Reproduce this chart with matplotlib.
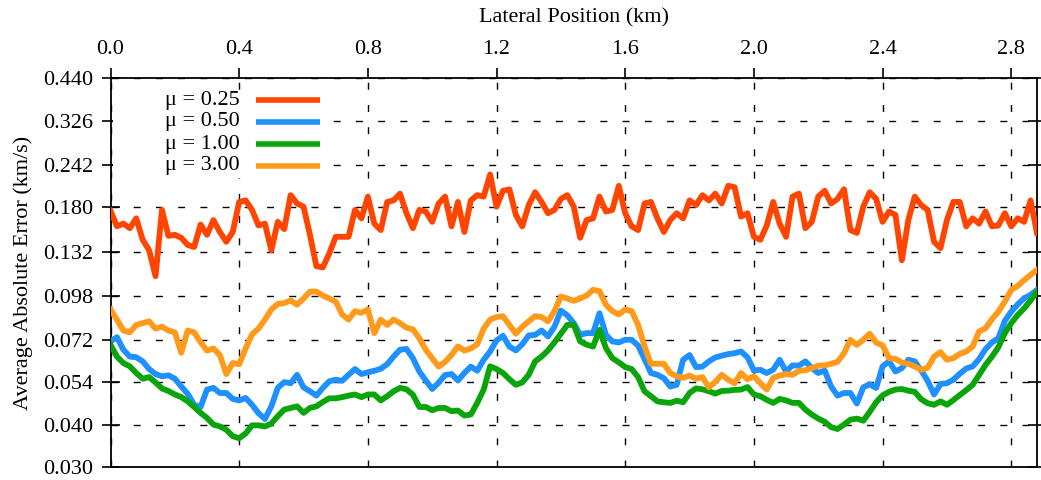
from __future__ import annotations

import matplotlib

matplotlib.use("Agg")

import matplotlib.pyplot as plt
import numpy as np
from matplotlib.patches import Rectangle
from matplotlib.ticker import FixedFormatter, FixedLocator, NullLocator


# sampling positions along the profile (km), every 20 m
positions_km = np.round(np.arange(145) * 0.02, 2)

mu_labels = ["\u03bc = 0.25", "\u03bc = 0.50", "\u03bc = 1.00", "\u03bc = 3.00"]
mu_colors = ["#ff4500", "#1e90ff", "#0aa50a", "#ff9a1a"]

err_mu025 = [
    0.176, 0.158, 0.161, 0.156, 0.167, 0.144, 0.134, 0.112, 0.177, 0.148, 0.149, 0.146,
    0.139, 0.137, 0.160, 0.149, 0.165, 0.152, 0.142, 0.152, 0.187, 0.189, 0.177, 0.159,
    0.161, 0.134, 0.163, 0.155, 0.196, 0.185, 0.181, 0.149, 0.120, 0.119, 0.131, 0.147,
    0.147, 0.147, 0.177, 0.167, 0.194, 0.161, 0.154, 0.187, 0.189, 0.198, 0.173, 0.156,
    0.177, 0.175, 0.163, 0.185, 0.194, 0.158, 0.187, 0.152, 0.189, 0.196, 0.194, 0.226,
    0.181, 0.202, 0.204, 0.171, 0.158, 0.183, 0.200, 0.187, 0.173, 0.177, 0.191, 0.196,
    0.181, 0.146, 0.165, 0.167, 0.194, 0.175, 0.177, 0.209, 0.173, 0.158, 0.154, 0.185,
    0.187, 0.167, 0.152, 0.165, 0.173, 0.167, 0.189, 0.183, 0.196, 0.189, 0.198, 0.185,
    0.209, 0.207, 0.169, 0.173, 0.147, 0.144, 0.159, 0.187, 0.161, 0.147, 0.194, 0.198,
    0.156, 0.163, 0.194, 0.202, 0.185, 0.191, 0.204, 0.154, 0.151, 0.181, 0.200, 0.191,
    0.163, 0.175, 0.171, 0.125, 0.165, 0.194, 0.183, 0.177, 0.142, 0.136, 0.165, 0.187,
    0.187, 0.158, 0.167, 0.161, 0.175, 0.158, 0.159, 0.173, 0.158, 0.167, 0.163, 0.189,
    0.151,
]

err_mu050 = [
    0.0714, 0.0735, 0.0674, 0.0643, 0.0640, 0.0622, 0.0590, 0.0570, 0.0561, 0.0565, 0.0552, 0.0523,
    0.0497, 0.0461, 0.0454, 0.0512, 0.0518, 0.0500, 0.0500, 0.0480, 0.0475, 0.0483, 0.0461, 0.0435,
    0.0418, 0.0456, 0.0518, 0.0539, 0.0535, 0.0567, 0.0520, 0.0506, 0.0491, 0.0518, 0.0542, 0.0548,
    0.0544, 0.0567, 0.0590, 0.0570, 0.0577, 0.0583, 0.0591, 0.0610, 0.0643, 0.0674, 0.0678, 0.0636,
    0.0580, 0.0545, 0.0514, 0.0537, 0.0566, 0.0570, 0.0545, 0.0574, 0.0600, 0.0583, 0.0629, 0.0666,
    0.0719, 0.0742, 0.0689, 0.0671, 0.0700, 0.0744, 0.0747, 0.0770, 0.0739, 0.0790, 0.0883, 0.0855,
    0.0810, 0.0747, 0.0756, 0.0756, 0.0867, 0.0747, 0.0714, 0.0709, 0.0722, 0.0722, 0.0694, 0.0632,
    0.0574, 0.0567, 0.0554, 0.0523, 0.0529, 0.0629, 0.0650, 0.0598, 0.0600, 0.0622, 0.0639, 0.0647,
    0.0654, 0.0658, 0.0666, 0.0640, 0.0584, 0.0587, 0.0574, 0.0587, 0.0629, 0.0580, 0.0605, 0.0604,
    0.0622, 0.0594, 0.0574, 0.0584, 0.0523, 0.0491, 0.0500, 0.0500, 0.0465, 0.0520, 0.0531, 0.0518,
    0.0601, 0.0622, 0.0580, 0.0594, 0.0629, 0.0622, 0.0584, 0.0544, 0.0495, 0.0532, 0.0535, 0.0548,
    0.0571, 0.0592, 0.0601, 0.0632, 0.0677, 0.0709, 0.0730, 0.0823, 0.0877, 0.0922, 0.0962, 0.0984,
    0.1019,
]

err_mu100 = [
    0.0697, 0.0643, 0.0615, 0.0601, 0.0574, 0.0552, 0.0558, 0.0538, 0.0516, 0.0507, 0.0495, 0.0486,
    0.0472, 0.0454, 0.0436, 0.0421, 0.0402, 0.0397, 0.0388, 0.0371, 0.0366, 0.0378, 0.0400, 0.0400,
    0.0397, 0.0405, 0.0426, 0.0446, 0.0451, 0.0456, 0.0436, 0.0451, 0.0456, 0.0470, 0.0482, 0.0482,
    0.0486, 0.0491, 0.0495, 0.0486, 0.0495, 0.0495, 0.0475, 0.0489, 0.0506, 0.0518, 0.0513, 0.0494,
    0.0454, 0.0454, 0.0444, 0.0451, 0.0451, 0.0441, 0.0443, 0.0428, 0.0431, 0.0467, 0.0512, 0.0601,
    0.0590, 0.0574, 0.0550, 0.0529, 0.0538, 0.0567, 0.0622, 0.0643, 0.0671, 0.0709, 0.0753, 0.0800,
    0.0800, 0.0714, 0.0698, 0.0689, 0.0773, 0.0682, 0.0636, 0.0618, 0.0598, 0.0590, 0.0558, 0.0506,
    0.0489, 0.0472, 0.0469, 0.0467, 0.0474, 0.0469, 0.0500, 0.0516, 0.0513, 0.0506, 0.0498, 0.0507,
    0.0508, 0.0511, 0.0512, 0.0521, 0.0495, 0.0489, 0.0477, 0.0467, 0.0480, 0.0475, 0.0467, 0.0467,
    0.0446, 0.0431, 0.0419, 0.0410, 0.0395, 0.0390, 0.0402, 0.0416, 0.0419, 0.0413, 0.0439, 0.0469,
    0.0492, 0.0504, 0.0512, 0.0514, 0.0508, 0.0504, 0.0479, 0.0466, 0.0461, 0.0472, 0.0461, 0.0476,
    0.0493, 0.0510, 0.0529, 0.0567, 0.0607, 0.0643, 0.0686, 0.0756, 0.0810, 0.0857, 0.0897, 0.0947,
    0.1007,
]

err_mu300 = [
    0.0890, 0.0830, 0.0770, 0.0760, 0.0800, 0.0810, 0.0820, 0.0780, 0.0790, 0.0770, 0.0760, 0.0660,
    0.0770, 0.0760, 0.0710, 0.0670, 0.0680, 0.0650, 0.0570, 0.0615, 0.0610, 0.0680, 0.0750, 0.0780,
    0.0830, 0.0890, 0.0925, 0.0930, 0.0947, 0.0920, 0.0960, 0.1007, 0.1007, 0.0980, 0.0960, 0.0940,
    0.0860, 0.0830, 0.0880, 0.0870, 0.0890, 0.0756, 0.0830, 0.0800, 0.0830, 0.0810, 0.0785, 0.0776,
    0.0730, 0.0674, 0.0636, 0.0600, 0.0620, 0.0650, 0.0690, 0.0670, 0.0680, 0.0700, 0.0780, 0.0830,
    0.0845, 0.0850, 0.0800, 0.0753, 0.0790, 0.0820, 0.0850, 0.0845, 0.0820, 0.0880, 0.0973, 0.0960,
    0.0945, 0.0960, 0.0980, 0.1020, 0.1010, 0.0920, 0.0880, 0.0860, 0.0890, 0.0880, 0.0800, 0.0690,
    0.0612, 0.0612, 0.0612, 0.0574, 0.0561, 0.0555, 0.0564, 0.0552, 0.0558, 0.0520, 0.0540, 0.0567,
    0.0548, 0.0535, 0.0574, 0.0550, 0.0561, 0.0535, 0.0512, 0.0555, 0.0564, 0.0570, 0.0567, 0.0583,
    0.0585, 0.0594, 0.0604, 0.0605, 0.0612, 0.0620, 0.0658, 0.0722, 0.0697, 0.0722, 0.0753, 0.0708,
    0.0695, 0.0636, 0.0633, 0.0617, 0.0612, 0.0600, 0.0587, 0.0595, 0.0643, 0.0663, 0.0629, 0.0636,
    0.0655, 0.0666, 0.0689, 0.0765, 0.0782, 0.0832, 0.0877, 0.0940, 0.1019, 0.1047, 0.1090, 0.1130,
    0.1170,
]

ytick_values = [0.030, 0.040, 0.054, 0.072, 0.098, 0.132, 0.180, 0.242, 0.326, 0.440]
ytick_labels = ["0.030", "0.040", "0.054", "0.072", "0.098", "0.132", "0.180", "0.242", "0.326", "0.440"]
xtick_values = [0.0, 0.4, 0.8, 1.2, 1.6, 2.0, 2.4, 2.8]


def main() -> None:
    plt.rcParams["font.family"] = ["Liberation Serif", "DejaVu Serif"]
    plt.rcParams["font.size"] = 16

    fig = plt.figure(figsize=(10.41, 4.8), dpi=100)
    ax = fig.add_axes([110.5 / 1041, 13 / 480, 926.5 / 1041, 389 / 480])

    series = [err_mu025, err_mu050, err_mu100, err_mu300]
    for values, color in zip(series, mu_colors):
        ax.plot(positions_km, values, color=color, lw=4.2, zorder=3)

    ax.set_yscale("log")
    ax.set_ylim(0.030, 0.440)
    ax.set_xlim(0.0, 2.88)
    ax.yaxis.set_major_locator(FixedLocator(ytick_values))
    ax.yaxis.set_major_formatter(FixedFormatter(ytick_labels))
    ax.yaxis.set_minor_locator(NullLocator())
    ax.set_xticks(xtick_values, labels=[f"{v:.1f}" for v in xtick_values])

    ax.xaxis.tick_top()
    ax.xaxis.set_label_position("top")
    ax.tick_params(axis="x", top=True, bottom=False, direction="out", length=7.5, width=1.2, pad=6)
    ax.tick_params(axis="y", left=True, right=True, direction="inout", length=13, width=1.2, pad=6)

    ax.set_xlabel("Lateral Position (km)", labelpad=13)
    ax.set_ylabel("Average Absolute Error (km/s)", labelpad=7)

    for spine in ax.spines.values():
        spine.set_linewidth(1.3)

    ax.set_axisbelow(True)
    ax.grid(True, which="major", color="black", lw=1.0, linestyle=(0, (5, 11)))

    # key: white panel over the grid, labels on the left of the line samples
    ax.add_patch(Rectangle((0.003, 0.743), 0.237, 0.226, transform=ax.transAxes,
                           facecolor="white", edgecolor="none", zorder=1.5))
    row_y = [0.9434, 0.8869, 0.8303, 0.7738]
    for label, color, yy in zip(mu_labels, mu_colors, row_y):
        ax.text(0.1398, yy, label, transform=ax.transAxes, ha="right", va="center", zorder=5)
        ax.plot([0.157, 0.226], [yy, yy], transform=ax.transAxes, color=color, lw=4.0,
                solid_capstyle="butt", zorder=5)

    fig.savefig("out.png", dpi=100)
    plt.close(fig)


if __name__ == "__main__":
    main()
